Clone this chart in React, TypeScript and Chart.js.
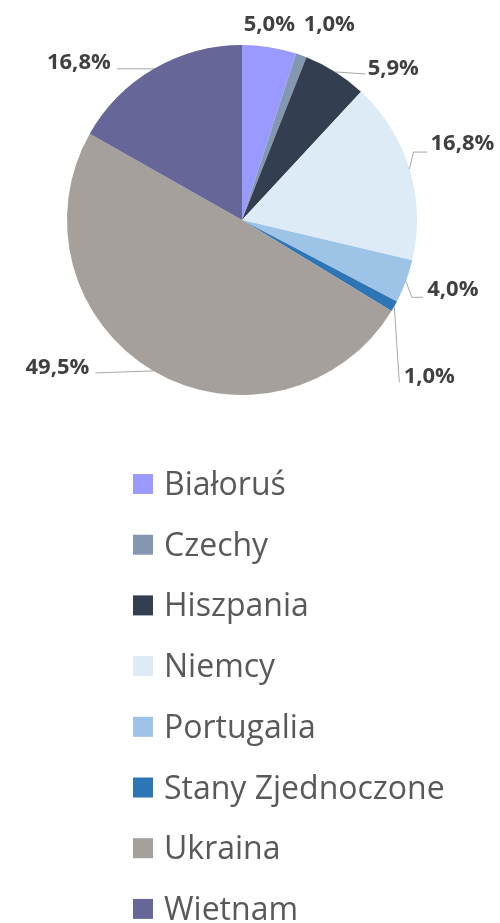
import React, { useEffect, useRef } from "react";
import { Chart, registerables } from "chart.js";

Chart.register(...registerables);

const categories = [
  "Białoruś",
  "Czechy",
  "Hiszpania",
  "Niemcy",
  "Portugalia",
  "Stany Zjednoczone",
  "Ukraina",
  "Wietnam",
];
const shares = [5.0, 1.0, 5.9, 16.8, 4.0, 1.0, 49.5, 16.8];
const shareLabels = ["5,0%", "1,0%", "5,9%", "16,8%", "4,0%", "1,0%", "49,5%", "16,8%"];
const colors = [
  "#9999FF",
  "#8497B0",
  "#333F50",
  "#DDEBF7",
  "#9DC3E6",
  "#2E75B6",
  "#A5A09B",
  "#666699",
];

// label placement relative to the point on the slice's outer edge at its mid angle
const labelLayout: { dx: number; dy: number; line: number[][] | null }[] = [
  { dx: 0, dy: -24, line: null },
  { dx: 28, dy: -32, line: null },
  { dx: 58, dy: -4, line: [[30, 2]] },
  { dx: 53, dy: -27, line: [[4, -17], [18, -17]] },
  { dx: 47, dy: 7, line: [[6, 16], [17, 16]] },
  { dx: 35, dy: 69, line: [[5, 76]] },
  { dx: -96, dy: -4, line: [[-58, 2]] },
  { dx: -75, dy: -7, line: [[-37, 0]] },
];

const LABEL_FONT = "bold 22px 'Open Sans'";
const LEGEND_FONT = "32px 'Open Sans'";

const labelsPlugin = {
  id: "pieLabels",
  afterDraw(chart: any) {
    const ctx = chart.ctx;
    const meta = chart.getDatasetMeta(0);
    ctx.save();
    meta.data.forEach((arc: any, i: number) => {
      const { x, y, startAngle, endAngle, outerRadius } = arc.getProps(
        ["x", "y", "startAngle", "endAngle", "outerRadius"],
        true
      );
      const mid = (startAngle + endAngle) / 2;
      const ex = x + Math.cos(mid) * outerRadius;
      const ey = y + Math.sin(mid) * outerRadius;
      const lay = labelLayout[i];
      if (lay.line) {
        ctx.beginPath();
        ctx.moveTo(ex, ey);
        lay.line.forEach((p) => ctx.lineTo(ex + p[0], ey + p[1]));
        ctx.strokeStyle = "#A6A6A6";
        ctx.lineWidth = 1;
        ctx.stroke();
      }
      ctx.font = LABEL_FONT;
      ctx.fillStyle = "#404040";
      ctx.textAlign = "center";
      ctx.textBaseline = "alphabetic";
      const txt = shareLabels[i];
      const m = ctx.measureText(txt);
      const h = m.actualBoundingBoxAscent;
      ctx.fillText(txt, ex + lay.dx, ey + lay.dy + h / 2);
    });

    // legend
    const labels = chart.data.labels as string[];
    const bg = chart.data.datasets[0].backgroundColor as string[];
    const legendTop = 484;
    const legendStep = 60.7;
    ctx.font = LEGEND_FONT;
    ctx.textAlign = "left";
    ctx.textBaseline = "alphabetic";
    labels.forEach((lab, i) => {
      const cy = legendTop + i * legendStep;
      ctx.fillStyle = bg[i];
      ctx.fillRect(133, cy - 10, 20, 20);
      ctx.fillStyle = "#595959";
      ctx.fillText(lab, 164, cy + 11);
    });
    ctx.restore();
  },
};

export default function App() {
  const ref = useRef<HTMLCanvasElement | null>(null);
  useEffect(() => {
    if (!ref.current) return;
    const chart = new Chart(ref.current, {
      type: "pie",
      data: {
        labels: categories,
        datasets: [
          {
            data: shares,
            backgroundColor: colors,
            borderWidth: 0,
          },
        ],
      },
      options: {
        responsive: false,
        animation: false,
        layout: { padding: { left: 67, right: 83, top: 45, bottom: 528 } },
        plugins: {
          legend: { display: false },
          tooltip: { enabled: false },
        },
      },
      plugins: [labelsPlugin],
    });
    return () => chart.destroy();
  }, []);
  return (
    <div style={{ position: "fixed", left: 0, top: 0, width: 500, height: 923, background: "#fff" }}>
      <canvas ref={ref} width={500} height={923} style={{ display: "block" }} />
    </div>
  );
}
